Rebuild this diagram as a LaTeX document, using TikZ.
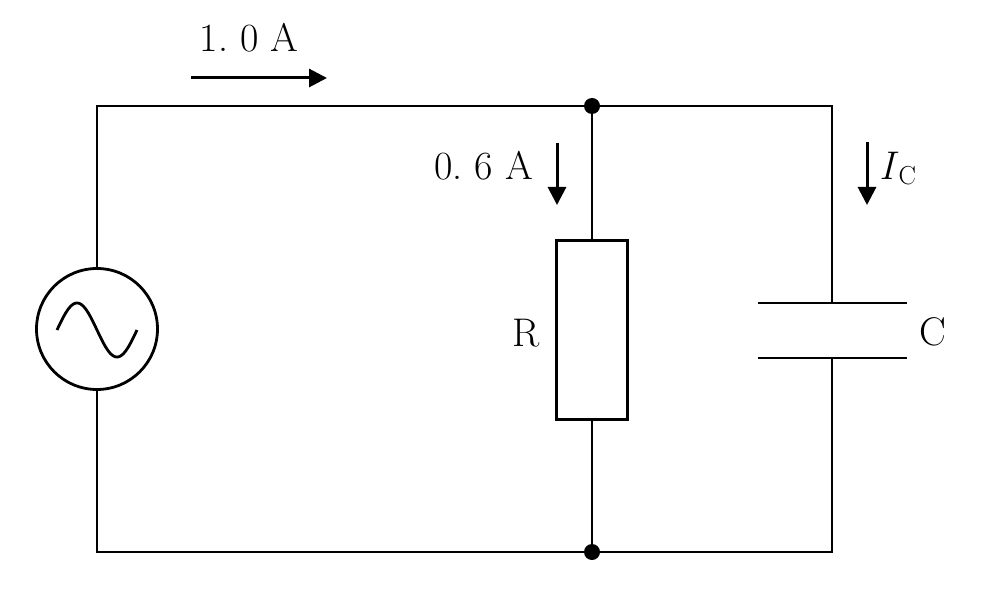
\documentclass[tikz,border=0pt]{standalone}
\usetikzlibrary{arrows.meta}
\begin{document}
\begin{tikzpicture}[x=1pt,y=-1pt,
  wire/.style={line width=2.9pt, line cap=rect},
  thinwire/.style={line width=2.2pt},
  curarrow/.style={line width=3pt, -{Triangle[length=18pt,width=18pt]}},
  lbl/.style={font=\fontsize{40}{44}\selectfont, inner sep=0pt},
  dotnode/.style={circle, fill=black, minimum size=16pt, inner sep=0pt}]
\useasboundingbox (0,0) rectangle (1000,593);
% coordinates
\coordinate (tl) at (97,106);
\coordinate (bl) at (97,552);
\coordinate (tr) at (832,106);
\coordinate (br) at (832,552);
\coordinate (cp1) at (832,303);
\coordinate (cp2) at (832,358);
\coordinate (cp1l) at (758,303);
\coordinate (cp1r) at (907,303);
\coordinate (cp2l) at (758,358);
\coordinate (cp2r) at (907,358);
% source
\node[draw, circle, line width=2.8pt, minimum size=121pt, inner sep=0pt] (src) at (97,329) {};
\draw[line width=2.8pt] plot[domain=0:360, samples=80] ({57+\x/360*80}, {330-27*sin(\x)});
% resistor
\node[draw, line width=3pt, minimum width=71pt, minimum height=178pt, inner sep=0pt] (res) at (592,330) {};
% junction dots
\node[dotnode] (jt) at (592,106) {};
\node[dotnode] (jb) at (592,552) {};
% wires
\draw[wire] (src.north) -- (tl) -- (jt.center);
\draw[wire] (src.south) -- (bl) -- (jb.center);
\draw[wire] (jt.center) -- (res.north);
\draw[wire] (res.south) -- (jb.center);
\draw[thinwire] (jt.center) -- (tr) -- (cp1);
\draw[thinwire] (jb.center) -- (br) -- (cp2);
% capacitor plates
\draw[wire, line cap=butt] (cp1l) -- (cp1r);
\draw[wire, line cap=butt] (cp2l) -- (cp2r);
% current arrows
\coordinate (a1s) at (191,78);
\coordinate (a1e) at (327,78);
\coordinate (a2s) at (557,143);
\coordinate (a2e) at (557,205);
\coordinate (a3s) at (867,142);
\coordinate (a3e) at (867,205);
\draw[curarrow] (a1s) -- (a1e);
\draw[curarrow] (a2s) -- (a2e);
\draw[curarrow] (a3s) -- (a3e);
% labels
\node[lbl, anchor=base] (l1) at (249,52) {1.\ 0 A};
\node[lbl, anchor=base east] (l2) at (533,180) {0.\ 6 A};
\node[lbl, anchor=base west] (l3) at (879,180) {\textit{I}\raisebox{-5pt}{\fontsize{26}{28}\selectfont C}};
\node[lbl, anchor=base] (lR) at (526,346) {R};
\node[lbl, anchor=base] (lC) at (933,345) {C};
\end{tikzpicture}
\end{document}
